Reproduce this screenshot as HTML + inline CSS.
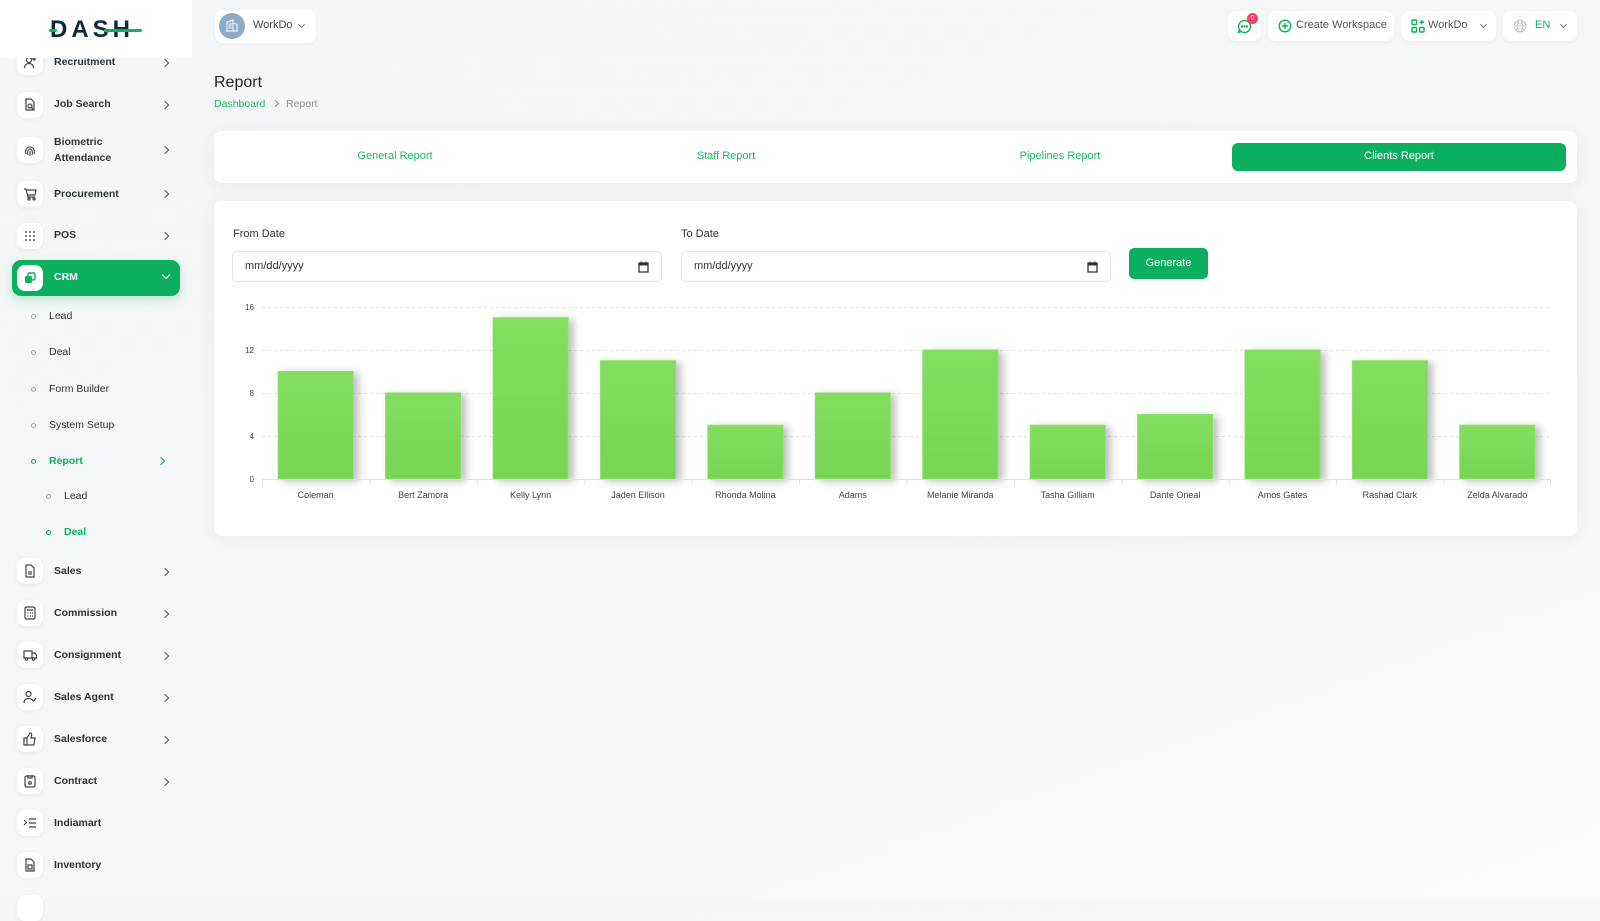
<!DOCTYPE html>
<html><head><meta charset="utf-8"><style>
*{margin:0;padding:0;box-sizing:border-box}
body{width:1600px;height:900px;overflow:hidden;background:linear-gradient(160deg,#f4f6f7 0%,#f6f7f8 55%,#f9fafa 100%);font-family:"Liberation Sans",Arial,sans-serif;color:#2f3a40;position:relative}
.abs{position:absolute}
.logo{position:absolute;left:0;top:0;width:192px;height:58px;background:#fff;z-index:5}
.ib{position:absolute;left:17px;width:26px;height:26px;background:#fff;border-radius:8px;box-shadow:0 1px 4px rgba(0,0,0,0.06)}
.ib svg{position:absolute;left:6px;top:6px}
.lbl{position:absolute;left:54px;font-size:10.5px;font-weight:bold;color:#2b3438;white-space:nowrap}
.chev{position:absolute;left:162px;width:6px;height:6px;border-right:1.3px solid #555;border-top:1.3px solid #555;transform:rotate(45deg)}
.sub{position:absolute;font-size:10.5px;color:#333;white-space:nowrap}
.dot{position:absolute;width:5px;height:5px;border:1px solid #9aa;border-radius:50%}
.card{position:absolute;background:#fff;border-radius:8px;box-shadow:0 2px 18px rgba(30,40,60,0.06)}
.hbtn{position:absolute;top:11px;height:30px;background:#fff;border-radius:8px;box-shadow:0 1px 4px rgba(0,0,0,0.04);font-size:11px;color:#555}
.tab{position:absolute;top:150px;font-size:11px;color:#1db866;transform:translateX(-50%);white-space:nowrap}
.inp{position:absolute;top:251px;height:31px;border:1px solid #dfe3e8;border-radius:5px;background:#fff;font-size:11px;color:#333}
</style></head><body>

<!-- SIDEBAR -->
<div class="logo">
  <div class="abs" style="left:50px;top:15px;font-size:24px;font-weight:bold;color:#0e2a3a;letter-spacing:4px;font-family:'Liberation Sans',sans-serif;line-height:30px">DASH</div>
  <div class="abs" style="left:49px;top:29px;width:8px;height:3px;background:#14b05f;border-radius:2px"></div>
  <div class="abs" style="left:104px;top:29px;width:38px;height:3px;background:#14b05f;border-radius:2px"></div>
</div>

<div class="ib" style="top:49px"><svg width="14" height="14" viewBox="0 0 14 14" fill="none" stroke="#444" stroke-width="1.2"><circle cx="6" cy="5" r="2.5"/><path d="M1.5 13c0-3 2-4.5 4.5-4.5s4.5 1.5 4.5 4.5M11 2v4M9 4h4"/></svg></div>
<div class="lbl" style="top:56px">Recruitment</div><div class="chev" style="top:60px"></div>

<div class="ib" style="top:92px"><svg width="14" height="14" viewBox="0 0 14 14" fill="none" stroke="#444" stroke-width="1.2"><path d="M3 1h5l3 3v8H3z"/><circle cx="7" cy="8" r="2"/><path d="M8.5 9.5l2 2"/></svg></div>
<div class="lbl" style="top:98px">Job Search</div><div class="chev" style="top:102px"></div>

<div class="ib" style="top:137px"><svg width="14" height="14" viewBox="0 0 14 14" fill="none" stroke="#444" stroke-width="1.1"><path d="M3 11c-1-3 0-7 4-7s5 4 4 7M5 12c-1-3 0-6 2-6s3 3 2 6M7 8v5"/></svg></div>
<div class="lbl" style="top:134px;line-height:16px">Biometric<br>Attendance</div><div class="chev" style="top:147px"></div>

<div class="ib" style="top:181px"><svg width="14" height="14" viewBox="0 0 14 14" fill="none" stroke="#444" stroke-width="1.2"><path d="M1 2h2l2 8h7M5 8h7l1-5H4"/><circle cx="6" cy="12" r="1"/><circle cx="11" cy="12" r="1"/></svg></div>
<div class="lbl" style="top:188px">Procurement</div><div class="chev" style="top:191px"></div>

<div class="ib" style="top:223px"><svg width="14" height="14" viewBox="0 0 14 14" fill="#555"><circle cx="3" cy="3" r="1"/><circle cx="7" cy="3" r="1"/><circle cx="11" cy="3" r="1"/><circle cx="3" cy="7" r="1"/><circle cx="7" cy="7" r="1"/><circle cx="11" cy="7" r="1"/><circle cx="3" cy="11" r="1"/><circle cx="7" cy="11" r="1"/><circle cx="11" cy="11" r="1"/></svg></div>
<div class="lbl" style="top:229px">POS</div><div class="chev" style="top:233px"></div>

<!-- CRM active -->
<div class="abs" style="left:12px;top:260px;width:168px;height:36px;background:#0caf60;border-radius:9px;box-shadow:0 4px 10px rgba(12,175,96,0.25)"></div>
<div class="ib" style="top:265px;box-shadow:none"><svg width="14" height="14" viewBox="0 0 14 14" fill="#0caf60"><rect x="2" y="5" width="7" height="7" rx="1.5"/><rect x="5" y="2" width="7" height="7" rx="1.5" fill="none" stroke="#0caf60" stroke-width="1.4"/></svg></div>
<div class="lbl" style="top:271px;color:#fff">CRM</div>
<div class="abs" style="left:163px;top:272px;width:6px;height:6px;border-right:1.3px solid #fff;border-bottom:1.3px solid #fff;transform:rotate(45deg)"></div>

<div class="dot" style="left:31px;top:314px"></div><div class="sub" style="left:49px;top:310px">Lead</div>
<div class="dot" style="left:31px;top:350px"></div><div class="sub" style="left:49px;top:346px">Deal</div>
<div class="dot" style="left:31px;top:387px"></div><div class="sub" style="left:49px;top:383px">Form Builder</div>
<div class="dot" style="left:31px;top:423px"></div><div class="sub" style="left:49px;top:419px">System Setup</div>
<div class="dot" style="left:31px;top:459px;border-color:#0caf60"></div><div class="sub" style="left:49px;top:455px;color:#0caf60;font-weight:bold">Report</div>
<div class="abs" style="left:158px;top:458px;width:6px;height:6px;border-right:1.3px solid #0caf60;border-top:1.3px solid #0caf60;transform:rotate(45deg)"></div>
<div class="dot" style="left:46px;top:494px"></div><div class="sub" style="left:64px;top:490px">Lead</div>
<div class="dot" style="left:46px;top:530px;border-color:#0caf60"></div><div class="sub" style="left:64px;top:526px;color:#0caf60;font-weight:bold">Deal</div>

<div class="ib" style="top:558px"><svg width="14" height="14" viewBox="0 0 14 14" fill="none" stroke="#444" stroke-width="1.2"><path d="M3 1h5l3 3v9H3z"/><path d="M5 8h4M5 10h4"/></svg></div>
<div class="lbl" style="top:565px">Sales</div><div class="chev" style="top:569px"></div>

<div class="ib" style="top:600px"><svg width="14" height="14" viewBox="0 0 14 14" fill="none" stroke="#444" stroke-width="1.2"><rect x="2" y="1" width="10" height="12" rx="1.5"/><path d="M4 4h6M4.5 7h1M7 7h1M9 7h1M4.5 10h1M7 10h1M9 10h1"/></svg></div>
<div class="lbl" style="top:607px">Commission</div><div class="chev" style="top:611px"></div>

<div class="ib" style="top:642px"><svg width="14" height="14" viewBox="0 0 14 14" fill="none" stroke="#444" stroke-width="1.2"><path d="M1 3h8v7H1zM9 5h3l1.5 2.5V10H9"/><circle cx="3.5" cy="11" r="1.2"/><circle cx="10.5" cy="11" r="1.2"/></svg></div>
<div class="lbl" style="top:649px">Consignment</div><div class="chev" style="top:653px"></div>

<div class="ib" style="top:684px"><svg width="14" height="14" viewBox="0 0 14 14" fill="none" stroke="#444" stroke-width="1.2"><circle cx="5.5" cy="4" r="2.5"/><path d="M1 13c0-3 2-4.5 4.5-4.5S10 10 10 11M9 9.5l1.5 1.5L13 8"/></svg></div>
<div class="lbl" style="top:691px">Sales Agent</div><div class="chev" style="top:695px"></div>

<div class="ib" style="top:726px"><svg width="14" height="14" viewBox="0 0 14 14" fill="none" stroke="#444" stroke-width="1.2"><path d="M1 6h3v7H1zM4 6l3-5c1.5 0 2 1 1.5 2.5L8 6h4l-1.2 7H4"/></svg></div>
<div class="lbl" style="top:733px">Salesforce</div><div class="chev" style="top:737px"></div>

<div class="ib" style="top:768px"><svg width="14" height="14" viewBox="0 0 14 14" fill="none" stroke="#444" stroke-width="1.2"><rect x="2" y="2" width="10" height="11" rx="1.5"/><path d="M5 1v3h4V1"/><circle cx="7" cy="9" r="1.3"/></svg></div>
<div class="lbl" style="top:775px">Contract</div><div class="chev" style="top:779px"></div>

<div class="ib" style="top:810px"><svg width="14" height="14" viewBox="0 0 14 14" fill="none" stroke="#444" stroke-width="1.2"><path d="M1 4l2.5 2.5L1 9M6 3h7M6 7h7M6 11h7"/></svg></div>
<div class="lbl" style="top:817px">Indiamart</div>

<div class="ib" style="top:852px"><svg width="14" height="14" viewBox="0 0 14 14" fill="none" stroke="#444" stroke-width="1.2"><path d="M3 1h5l3 3v9H3z"/><path d="M5 7h4v4H5z"/></svg></div>
<div class="lbl" style="top:859px">Inventory</div>

<div class="ib" style="top:895px"></div>

<!-- HEADER -->
<div class="hbtn" style="left:215px;top:10px;width:101px;height:33px">
  <div class="abs" style="left:4px;top:3px;width:26px;height:26px;border-radius:50%;background:#8fabc4"><svg width="26" height="26" viewBox="0 0 26 26" fill="none" stroke="#e8f0f6" stroke-width="1.2"><path d="M8 18V9l6-2v11M14 10l4 1.5V18M7 18h12M9.5 11h3M9.5 13h3M9.5 15h3"/></svg></div>
  <div class="abs" style="left:38px;top:9px;font-size:11px;color:#444">WorkDo</div>
  <div class="abs" style="left:84px;top:12px;width:5px;height:5px;border-right:1px solid #777;border-bottom:1px solid #777;transform:rotate(45deg)"></div>
</div>

<div class="hbtn" style="left:1228px;width:33px">
  <svg class="abs" style="left:9px;top:8px" width="15" height="15" viewBox="0 0 15 15" fill="none" stroke="#0caf60" stroke-width="1.4"><path d="M7.5 1.5a6 6 0 1 1-5 9.3L1.5 13.5l2.7-1A6 6 0 0 1 7.5 1.5z"/><circle cx="5" cy="7.5" r=".5" fill="#0caf60"/><circle cx="7.5" cy="7.5" r=".5" fill="#0caf60"/><circle cx="10" cy="7.5" r=".5" fill="#0caf60"/></svg>
  <div class="abs" style="left:19px;top:2px;width:11px;height:11px;border-radius:50%;background:#ff3a6e;color:#fff;font-size:7px;text-align:center;line-height:11px">0</div>
</div>
<div class="hbtn" style="left:1268px;width:126px">
  <svg class="abs" style="left:10px;top:8px" width="14" height="14" viewBox="0 0 14 14" fill="none" stroke="#0caf60" stroke-width="1.4"><circle cx="7" cy="7" r="5.8"/><path d="M7 4v6M4 7h6"/></svg>
  <div class="abs" style="left:28px;top:8px;color:#555">Create Workspace</div>
</div>
<div class="hbtn" style="left:1402px;width:94px">
  <svg class="abs" style="left:9px;top:8px" width="14" height="14" viewBox="0 0 14 14" fill="none" stroke="#0caf60" stroke-width="1.4"><rect x="1" y="1" width="4.5" height="4.5" rx=".8"/><rect x="1" y="8.5" width="4.5" height="4.5" rx=".8"/><rect x="8.5" y="8.5" width="4.5" height="4.5" rx=".8"/><path d="M10.75 1v4.5M8.5 3.25H13"/></svg>
  <div class="abs" style="left:26px;top:8px;color:#555">WorkDo</div>
  <div class="abs" style="left:79px;top:11px;width:5px;height:5px;border-right:1px solid #777;border-bottom:1px solid #777;transform:rotate(45deg)"></div>
</div>
<div class="hbtn" style="left:1503px;width:74px">
  <svg class="abs" style="left:10px;top:8px" width="14" height="14" viewBox="0 0 14 14" fill="none" stroke="#c4c8cc" stroke-width="1.1"><circle cx="7" cy="7" r="6"/><ellipse cx="7" cy="7" rx="2.6" ry="6"/><path d="M1 7h12M2 4h10M2 10h10"/></svg>
  <div class="abs" style="left:32px;top:8px;color:#0caf60">EN</div>
  <div class="abs" style="left:58px;top:11px;width:5px;height:5px;border-right:1px solid #777;border-bottom:1px solid #777;transform:rotate(45deg)"></div>
</div>

<!-- TITLE -->
<div class="abs" style="left:214px;top:74px;font-size:16px;color:#1e2428">Report</div>
<div class="abs" style="left:214px;top:98px;font-size:10.5px;color:#1db866">Dashboard</div>
<div class="abs" style="left:273px;top:101px;width:5px;height:5px;border-right:1px solid #888;border-top:1px solid #888;transform:rotate(45deg)"></div>
<div class="abs" style="left:286px;top:98px;font-size:10.5px;color:#8a9095">Report</div>

<!-- TABS CARD -->
<div class="card" style="left:214px;top:131px;width:1363px;height:52px"></div>
<div class="tab" style="left:395px">General Report</div>
<div class="tab" style="left:726px">Staff Report</div>
<div class="tab" style="left:1060px">Pipelines Report</div>
<div class="abs" style="left:1232px;top:143px;width:334px;height:28px;background:#0caf60;border-radius:6px"></div>
<div class="tab" style="left:1399px;color:#fff">Clients Report</div>

<!-- FORM CARD -->
<div class="card" style="left:214px;top:201px;width:1363px;height:335px"></div>
<div class="abs" style="left:233px;top:228px;font-size:11px;color:#333">From Date</div>
<div class="inp" style="left:232px;width:430px"><span class="abs" style="left:12px;top:8px">mm/dd/yyyy</span>
  <svg class="abs" style="left:405px;top:9px" width="11" height="12" viewBox="0 0 11 12"><rect x="1" y="2" width="9" height="9" fill="none" stroke="#333" stroke-width="1.3"/><rect x="1" y="2" width="9" height="2.5" fill="#333"/><path d="M3 .5v2M8 .5v2" stroke="#333"/></svg></div>
<div class="abs" style="left:681px;top:228px;font-size:11px;color:#333">To Date</div>
<div class="inp" style="left:681px;width:430px"><span class="abs" style="left:12px;top:8px">mm/dd/yyyy</span>
  <svg class="abs" style="left:405px;top:9px" width="11" height="12" viewBox="0 0 11 12"><rect x="1" y="2" width="9" height="9" fill="none" stroke="#333" stroke-width="1.3"/><rect x="1" y="2" width="9" height="2.5" fill="#333"/><path d="M3 .5v2M8 .5v2" stroke="#333"/></svg></div>
<div class="abs" style="left:1129px;top:248px;width:79px;height:31px;background:#0caf60;border-radius:5px;color:#fff;font-size:11px;text-align:center;line-height:31px">Generate</div>

<!-- CHART -->
<svg class="abs" style="left:0;top:0" width="1600" height="560" viewBox="0 0 1600 560">
<defs>
<linearGradient id="g" x1="0" y1="0" x2="0" y2="1"><stop offset="0" stop-color="#83de60"/><stop offset="1" stop-color="#76d653"/></linearGradient>
<filter id="sh" x="-20%" y="-20%" width="160%" height="140%"><feDropShadow dx="5" dy="2" stdDeviation="4" flood-color="#000" flood-opacity="0.25"/></filter>
</defs>
<g stroke="#e2e2e2" stroke-dasharray="3,3" stroke-width="1">
<line x1="262" y1="307.5" x2="1551" y2="307.5"/>
<line x1="262" y1="350.5" x2="1551" y2="350.5"/>
<line x1="262" y1="393.5" x2="1551" y2="393.5"/>
<line x1="262" y1="436.5" x2="1551" y2="436.5"/>
</g>
<g font-family="Liberation Sans, Arial, sans-serif" font-size="8" fill="#444" text-anchor="end">
<text x="254" y="310">16</text><text x="254" y="353">12</text><text x="254" y="396">8</text><text x="254" y="439">4</text><text x="254" y="482">0</text>
</g>
<g fill="url(#g)" stroke="#88e167" stroke-width="1" filter="url(#sh)">
<rect x="278.2" y="371.5" width="75" height="107.5"/>
<rect x="385.6" y="393" width="75" height="86"/>
<rect x="493.1" y="317.75" width="75" height="161.25"/>
<rect x="600.5" y="360.75" width="75" height="118.25"/>
<rect x="707.9" y="425.25" width="75" height="53.75"/>
<rect x="815.3" y="393" width="75" height="86"/>
<rect x="922.8" y="350" width="75" height="129"/>
<rect x="1030.2" y="425.25" width="75" height="53.75"/>
<rect x="1137.6" y="414.5" width="75" height="64.5"/>
<rect x="1245" y="350" width="75" height="129"/>
<rect x="1352.4" y="360.75" width="75" height="118.25"/>
<rect x="1459.8" y="425.25" width="75" height="53.75"/>
</g>
<line x1="262" y1="479.5" x2="1551" y2="479.5" stroke="#e0e0e0"/>
<g stroke="#e0e0e0">
<line x1="262.5" y1="479" x2="262.5" y2="485"/><line x1="369.9" y1="479" x2="369.9" y2="485"/><line x1="477.3" y1="479" x2="477.3" y2="485"/><line x1="584.8" y1="479" x2="584.8" y2="485"/><line x1="692.2" y1="479" x2="692.2" y2="485"/><line x1="799.6" y1="479" x2="799.6" y2="485"/><line x1="907" y1="479" x2="907" y2="485"/><line x1="1014.5" y1="479" x2="1014.5" y2="485"/><line x1="1121.9" y1="479" x2="1121.9" y2="485"/><line x1="1229.3" y1="479" x2="1229.3" y2="485"/><line x1="1336.7" y1="479" x2="1336.7" y2="485"/><line x1="1444.1" y1="479" x2="1444.1" y2="485"/><line x1="1550.5" y1="479" x2="1550.5" y2="485"/>
</g>
<g font-family="Liberation Sans, Arial, sans-serif" font-size="9" fill="#444" text-anchor="middle">
<text x="315.7" y="498">Coleman</text>
<text x="423.1" y="498">Bert Zamora</text>
<text x="530.6" y="498">Kelly Lynn</text>
<text x="638" y="498">Jaden Ellison</text>
<text x="745.4" y="498">Rhonda Molina</text>
<text x="852.8" y="498">Adams</text>
<text x="960.3" y="498">Melanie Miranda</text>
<text x="1067.7" y="498">Tasha Gilliam</text>
<text x="1175.1" y="498">Dante Oneal</text>
<text x="1282.5" y="498">Amos Gates</text>
<text x="1389.9" y="498">Rashad Clark</text>
<text x="1497.3" y="498">Zelda Alvarado</text>
</g>
</svg>

</body></html>
